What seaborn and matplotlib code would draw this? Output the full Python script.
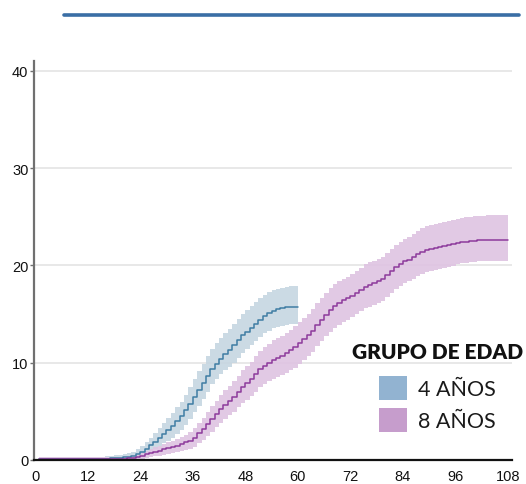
import numpy as np
import pandas as pd
import matplotlib
matplotlib.use('Agg')
import matplotlib.pyplot as plt
from matplotlib.patches import Patch
from matplotlib.lines import Line2D
import seaborn as sns

# meses de seguimiento y incidencia acumulada (%) con su intervalo de confianza
meses_4 = [0, 1, 15, 16, 17, 18, 19, 20, 21, 22, 23, 24, 25, 26, 27, 28, 29, 30,
           31, 32, 33, 34, 35, 36, 37, 38, 39, 40, 41, 42, 43, 44, 45, 46, 47, 48,
           49, 50, 51, 52, 53, 54, 55, 56, 57, 58, 59, 60]
valor_4 = [0, 0.1, 0.1, 0.15, 0.2, 0.2, 0.25, 0.3, 0.35, 0.4, 0.6, 0.8, 1.1, 1.5,
           1.9, 2.3, 2.7, 3.1, 3.5, 4.0, 4.5, 5.1, 5.8, 6.5, 7.2, 7.9, 8.6, 9.3, 9.9,
           10.4, 10.9, 11.3, 11.8, 12.3, 12.8, 13.2, 13.6, 14.0, 14.4, 14.8, 15.1,
           15.35, 15.5, 15.6, 15.7, 15.75, 15.75, 15.75]
bajo_4 = [0, 0, 0, 0, 0, 0, 0.05, 0.05, 0.1, 0.1, 0.2, 0.3, 0.5, 0.8, 1.1, 1.4,
          1.7, 2.0, 2.3, 2.7, 3.1, 3.6, 4.2, 4.9, 5.6, 6.3, 7.0, 7.8, 8.3, 8.8, 9.2,
          9.6, 10.0, 10.5, 11.0, 11.4, 11.8, 12.2, 12.6, 13.0, 13.3, 13.6, 13.7,
          13.8, 13.9, 14.0, 14.0, 14.0]
alto_4 = [0, 0.3, 0.3, 0.4, 0.45, 0.5, 0.55, 0.6, 0.7, 0.8, 1.1, 1.4, 1.8, 2.3,
          2.8, 3.3, 3.8, 4.3, 4.8, 5.4, 6.0, 6.7, 7.5, 8.3, 9.1, 9.9, 10.7, 11.4,
          12.0, 12.5, 13.0, 13.5, 14.0, 14.5, 15.0, 15.4, 15.8, 16.2, 16.6, 17.0,
          17.3, 17.5, 17.6, 17.7, 17.8, 17.9, 17.9, 17.9]

meses_8 = [0, 1, 19, 20, 21, 22, 23, 24, 25, 26, 27, 28, 29, 30, 31, 32, 33, 34,
           35, 36, 37, 38, 39, 40, 41, 42, 43, 44, 45, 46, 47, 48, 49, 50, 51, 52,
           53, 54, 55, 56, 57, 58, 59, 60, 61, 62, 63, 64, 65, 66, 67, 68, 69, 70,
           71, 72, 73, 74, 75, 76, 77, 78, 79, 80, 81, 82, 83, 84, 85, 86, 87, 88,
           89, 90, 91, 92, 93, 94, 95, 96, 97, 98, 99, 100, 101, 102, 103, 104, 108]
valor_8 = [0, 0.1, 0.12, 0.15, 0.2, 0.2, 0.3, 0.4, 0.6, 0.7, 0.85, 0.95, 1.1, 1.2,
           1.3, 1.45, 1.6, 1.8, 2.0, 2.3, 2.8, 3.2, 3.7, 4.2, 4.7, 5.2, 5.7, 6.1,
           6.5, 7.0, 7.5, 7.9, 8.3, 8.8, 9.3, 9.7, 10.0, 10.3, 10.5, 10.7, 11.0,
           11.3, 11.6, 12.0, 12.4, 12.8, 13.3, 13.9, 14.4, 14.9, 15.4, 15.8, 16.1,
           16.4, 16.6, 16.9, 17.2, 17.5, 17.8, 18.0, 18.2, 18.4, 18.6, 19.0, 19.4,
           19.8, 20.1, 20.4, 20.6, 20.9, 21.2, 21.4, 21.6, 21.7, 21.8, 21.9, 22.0,
           22.1, 22.2, 22.3, 22.4, 22.45, 22.5, 22.55, 22.6, 22.6, 22.65, 22.65, 22.65]
bajo_8 = [0, 0, 0, 0, 0, 0, 0.05, 0.1, 0.2, 0.3, 0.4, 0.45, 0.55, 0.6, 0.7, 0.8,
          0.9, 1.0, 1.15, 1.35, 1.75, 2.1, 2.5, 2.9, 3.35, 3.8, 4.25, 4.6, 4.95,
          5.4, 5.85, 6.2, 6.55, 7.0, 7.45, 7.8, 8.1, 8.35, 8.5, 8.7, 8.95, 9.25,
          9.5, 9.9, 10.25, 10.65, 11.1, 11.7, 12.2, 12.7, 13.2, 13.6, 13.9, 14.2,
          14.4, 14.7, 15.0, 15.3, 15.6, 15.75, 15.95, 16.15, 16.35, 16.75, 17.15,
          17.55, 17.85, 18.15, 18.35, 18.65, 18.95, 19.15, 19.35, 19.45, 19.55,
          19.65, 19.75, 19.85, 19.95, 20.1, 20.2, 20.25, 20.3, 20.35, 20.4, 20.4,
          20.45, 20.45, 20.45]
alto_8 = [0, 0.3, 0.35, 0.4, 0.45, 0.5, 0.6, 0.75, 0.95, 1.1, 1.3, 1.45, 1.65, 1.8,
          1.95, 2.15, 2.35, 2.6, 2.9, 3.25, 3.85, 4.3, 4.9, 5.5, 6.1, 6.65, 7.2,
          7.65, 8.1, 8.65, 9.2, 9.65, 10.1, 10.65, 11.2, 11.65, 11.95, 12.3, 12.55,
          12.75, 13.1, 13.4, 13.75, 14.15, 14.6, 15.0, 15.5, 16.15, 16.65, 17.15,
          17.65, 18.05, 18.35, 18.65, 18.85, 19.15, 19.45, 19.75, 20.1, 20.3, 20.5,
          20.7, 20.9, 21.3, 21.7, 22.1, 22.45, 22.75, 22.95, 23.25, 23.55, 23.8,
          24.0, 24.1, 24.2, 24.35, 24.45, 24.55, 24.65, 24.8, 24.9, 24.95, 25.0,
          25.05, 25.1, 25.1, 25.2, 25.2, 25.2]

grupos = ['4 AÑOS', '8 AÑOS']
color_linea = {'4 AÑOS': '#3f7da3', '8 AÑOS': '#8d3a9c'}
color_banda = {'4 AÑOS': '#c6d6e1', '8 AÑOS': '#dec3e2'}
color_leyenda = {'4 AÑOS': '#92b3d1', '8 AÑOS': '#c69dcc'}

df = pd.concat([
    pd.DataFrame({'mes': meses_4, 'valor': valor_4, 'bajo': bajo_4, 'alto': alto_4, 'grupo': '4 AÑOS'}),
    pd.DataFrame({'mes': meses_8, 'valor': valor_8, 'bajo': bajo_8, 'alto': alto_8, 'grupo': '8 AÑOS'}),
])

sns.set_style('white')
plt.rcParams['font.family'] = ['Liberation Sans', 'DejaVu Sans']

fig = plt.figure(figsize=(5.26, 4.85), dpi=100)
ax = fig.add_axes([34 / 526, 1 - 461 / 485, (512 - 34) / 526, (461 - 62) / 485])

for g in grupos:
    d = df[df['grupo'] == g]
    ax.fill_between(d['mes'], d['bajo'], d['alto'], step='post',
                    color=color_banda[g], alpha=0.9, linewidth=0, zorder=2)

sns.lineplot(data=df, x='mes', y='valor', hue='grupo', palette=color_linea,
             drawstyle='steps-post', linewidth=1.1, legend=False, errorbar=None,
             ax=ax, zorder=3)

ax.set_xlim(-0.25, 108.9)
ax.set_ylim(0, 41.0)
ax.set_xticks(range(0, 109, 12))
ax.set_yticks([0, 10, 20, 30, 40])
ax.set_xlabel('')
ax.set_ylabel('')
ax.grid(axis='y', color='#e6e6e6', linewidth=1.3)
ax.set_axisbelow(True)

for s in ['top', 'right']:
    ax.spines[s].set_visible(False)
ax.spines['left'].set_color('#707070')
ax.spines['left'].set_linewidth(1.6)
ax.spines['bottom'].set_color('#111111')
ax.spines['bottom'].set_linewidth(1.6)
ax.spines['bottom'].set_zorder(4)

ax.tick_params(axis='y', left=True, length=3, width=1, color='#707070',
               labelsize=10.5, pad=1, labelcolor='#111111')
ax.tick_params(axis='x', bottom=False, labelsize=10.5, pad=3, labelcolor='#111111')

# leyenda
fig.text(352 / 526, 1 - 353 / 485, 'GRUPO DE EDAD', family='Lato', weight='heavy',
         size=15, color='#111111', va='center', ha='left')
handles = [Patch(facecolor=color_leyenda[g], edgecolor='none', label=g) for g in grupos]
leg = ax.legend(handles=handles, loc='upper left', frameon=False,
                prop={'family': 'Lato', 'weight': 'normal', 'size': 15.5},
                labelcolor='#1a1a1a', handlelength=1.3, handleheight=1.35,
                handletextpad=0.5, labelspacing=0.35, borderpad=0, borderaxespad=0)
leg.set_bbox_to_anchor((379 / 526, 1 - 377 / 485), transform=fig.transFigure)

# linea decorativa superior
fig.add_artist(Line2D([64 / 526, 519 / 526], [1 - 16 / 485, 1 - 16 / 485],
                      transform=fig.transFigure, color='#3a6ea5', linewidth=2.6))

fig.savefig('out.png', dpi=100)
